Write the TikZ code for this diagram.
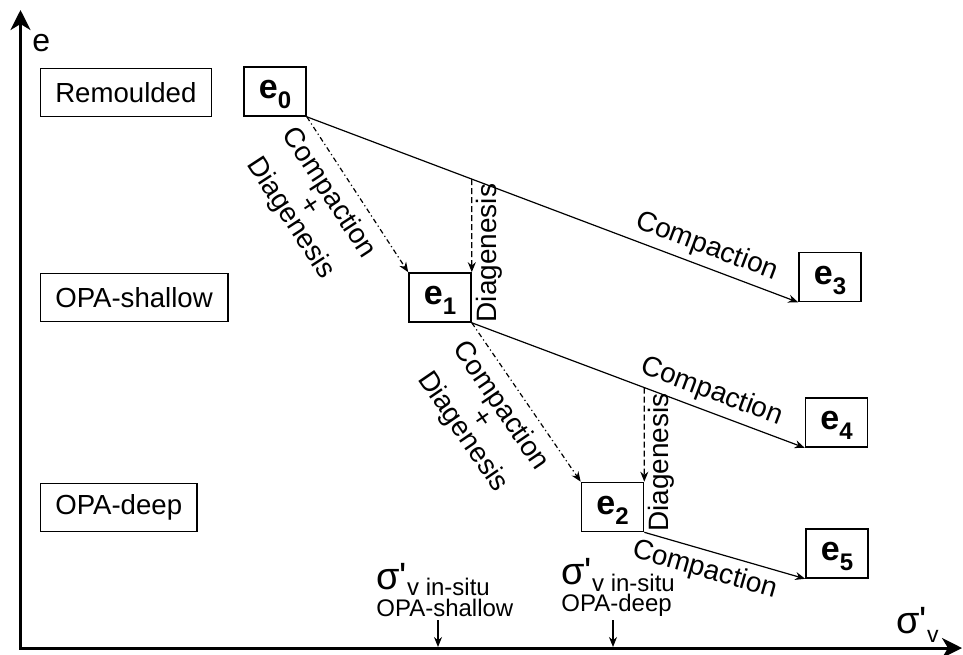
\documentclass[tikz,border=0pt]{standalone}
\usepackage{fontspec}
\setmainfont{Liberation Sans}
\usetikzlibrary{arrows.meta,intersections}
\newcommand{\evar}[1]{\textbf{e}\raisebox{-5pt}{\fontsize{12}{12}\selectfont\textbf{#1}}}
\newcommand{\sigp}{{\fontsize{19}{19}\selectfont σ\textquotesingle}}

\begin{document}
\begin{tikzpicture}[x=0.5pt,y=-0.5pt,>=Stealth,font=\fontsize{13.8}{15}\selectfont,
  axisline/.style={line width=1.5pt,{Stealth[length=10pt,width=10pt,inset=3pt]}-{Stealth[length=10pt,width=10pt,inset=3pt]}},
  cat/.style={draw,line width=0.8pt,minimum height=24pt,inner xsep=7.5pt,anchor=west},
  ebx/.style={draw,line width=0.8pt,minimum height=24.5pt,minimum width=31pt,inner sep=0pt,
    text height=12pt,text depth=5pt,font=\fontsize{17}{17}\selectfont},
  conn/.style={line width=0.6pt,-{Stealth[length=5pt,width=4pt]}},
  compdia/.style={conn,dash pattern=on 2.5pt off 1.5pt on 0.6pt off 1.5pt},
  dia/.style={conn,dash pattern=on 3pt off 1.5pt},
  lab/.style={font=\fontsize{14}{11.5}\selectfont,inner sep=2pt},
  vlab/.style={lab,rotate=90,anchor=north west,inner xsep=0pt,inner ysep=2pt},
  tickarr/.style={line width=0.6pt,-{Stealth[length=5pt,width=4pt]}},
  insitu/.style={align=left,anchor=south west,inner sep=0pt,font=\fontsize{12}{13.5}\selectfont}]
  \useasboundingbox (0,0) rectangle (963,654);
  % axes
  \coordinate (O) at (20.5,648);
  \coordinate (ytip) at (20.5,10);
  \coordinate (xtip) at (962,648);
  \draw[axisline] (ytip) -- (O) -- (xtip);
  \node[anchor=base west,inner sep=0pt,font=\fontsize{16}{16}\selectfont] (elab) at (32,51) {e};
  \node[anchor=base west,inner sep=0pt] (slab) at (896,633) {\sigp\raisebox{-4.5pt}{\fontsize{11.5}{11.5}\selectfont v}};
  % categories
  \node[cat] (remoulded) at (39.5,92.5) {Remoulded};
  \node[cat] (shallow) at (39.5,297.5) {OPA-shallow};
  \node[cat] (deep) at (39.5,507.5) {OPA-deep};
  % void ratios
  \node[ebx] (e0) at (275,91.5) {\evar{0}};
  \node[ebx] (e1) at (440,297.5) {\evar{1}};
  \node[ebx] (e2) at (612.5,507) {\evar{2}};
  \node[ebx] (e3) at (830,277) {\evar{3}};
  \node[ebx] (e4) at (836.5,422.5) {\evar{4}};
  \node[ebx] (e5) at (837,553.5) {\evar{5}};
  % remoulded -> shallow
  \draw[conn,name path=c0] (e0.south east) -- (e3.south west)
    node[lab,sloped,above=1pt,pos=0.8] {Compaction};
  \draw[compdia] (e0.south east) -- (e1.north west)
    node[lab,sloped,below=3pt,pos=0.41,align=center] {Compaction\\+\\Diagenesis};
  \path[name path=v1] (e1.north east) -- ++(0,-200);
  \path[name intersections={of=c0 and v1,by=d1}];
  \draw[dia] (d1) -- (e1.north east);
  \node[vlab] (dg1) at (e1.south east) {Diagenesis};
  % shallow -> deep
  \draw[conn,name path=c1] (e1.south east) -- (e4.south west)
    node[lab,sloped,above=1pt,pos=0.7] {Compaction};
  \draw[compdia] (e1.south east) -- (e2.north west)
    node[lab,sloped,below=3pt,pos=0.44,align=center] {Compaction\\+\\Diagenesis};
  \path[name path=v2] (e2.north east) -- ++(0,-200);
  \path[name intersections={of=c1 and v2,by=d2}];
  \draw[dia] (d2) -- (e2.north east);
  \node[vlab] (dg2) at (e2.south east) {Diagenesis};
  % deep
  \draw[conn] (e2.south east) -- (e5.south west)
    node[lab,sloped,below=1pt,pos=0.41] {Compaction};
  % in-situ stresses
  \node[insitu] (ishallow) at (376,617) {\sigp\raisebox{-3.3pt}{v in-situ}\\OPA-shallow};
  \node[insitu] (ideep) at (561,617) {\sigp\raisebox{-3.3pt}{v in-situ}\\OPA-deep};
  \coordinate (tsh) at (438,620);
  \coordinate (tsh0) at (438,647);
  \coordinate (tdp) at (613,620);
  \coordinate (tdp0) at (613,647);
  \draw[tickarr] (tsh) -- (tsh0);
  \draw[tickarr] (tdp) -- (tdp0);
\end{tikzpicture}
\end{document}
